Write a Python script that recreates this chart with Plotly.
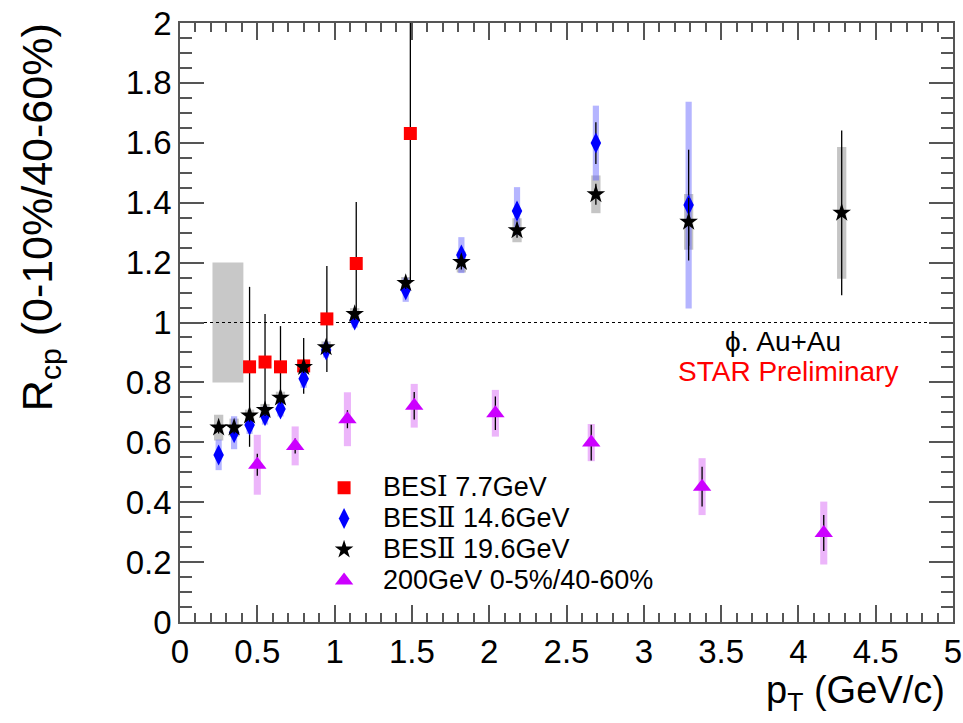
import plotly.graph_objects as go

# ---------------- data ----------------
# BESI 7.7 GeV (red squares)
pt_77 = [0.45, 0.55, 0.65, 0.80, 0.95, 1.14, 1.49]
rcp_77 = [0.852, 0.868, 0.852, 0.855, 1.012, 1.197, 1.631]
stat_77 = [0.267, 0.160, 0.136, 0.093, 0.177, 0.205, 0.50]

# BESII 14.6 GeV (blue diamonds)
pt_146 = [0.25, 0.35, 0.45, 0.55, 0.65, 0.80, 0.945, 1.13, 1.46, 1.82, 2.18, 2.69, 3.29]
rcp_146 = [0.558, 0.632, 0.658, 0.689, 0.711, 0.812, 0.908, 1.008, 1.109, 1.225, 1.372, 1.599, 1.392]
stat_146 = [0.02, 0.02, 0.02, 0.02, 0.02, 0.02, 0.02, 0.02, 0.025, 0.025, 0.03, 0.07, 0.185]
sys_146 = [0.051, 0.055, 0.03, 0.03, 0.025, 0.03, 0.025, 0.025, 0.04, 0.06, 0.08, 0.125, 0.345]

# BESII 19.6 GeV (black stars)
pt_196 = [0.25, 0.35, 0.45, 0.55, 0.65, 0.80, 0.945, 1.13, 1.46, 1.82, 2.18, 2.69, 3.29, 4.28]
rcp_196 = [0.649, 0.649, 0.689, 0.708, 0.749, 0.851, 0.917, 1.028, 1.132, 1.202, 1.308, 1.428, 1.336, 1.366]
stat_196 = [0.02, 0.02, 0.02, 0.02, 0.02, 0.02, 0.02, 0.02, 0.02, 0.025, 0.025, 0.035, 0.08, 0.275]
sys_196 = [0.043, 0.03, 0.02, 0.02, 0.02, 0.02, 0.02, 0.02, 0.02, 0.035, 0.04, 0.063, 0.093, 0.22]

# 200 GeV 0-5%/40-60% (violet triangles)
pt_200 = [0.50, 0.745, 1.083, 1.515, 2.04, 2.66, 3.377, 4.164]
rcp_200 = [0.525, 0.588, 0.677, 0.722, 0.697, 0.599, 0.452, 0.297]
stat_200 = [0.037, 0.025, 0.03, 0.046, 0.056, 0.06, 0.066, 0.06]
sys_200 = [0.10, 0.065, 0.09, 0.073, 0.078, 0.062, 0.095, 0.105]

# normalisation uncertainty band
norm_x = [0.21, 0.41]
norm_y = [0.80, 1.20]

x_ticks = [0, 0.5, 1, 1.5, 2, 2.5, 3, 3.5, 4, 4.5, 5]
x_tick_labels = ["0", "0.5", "1", "1.5", "2", "2.5", "3", "3.5", "4", "4.5", "5"]
y_ticks = [0, 0.2, 0.4, 0.6, 0.8, 1, 1.2, 1.4, 1.6, 1.8, 2]
y_tick_labels = ["0", "0.2", "0.4", "0.6", "0.8", "1", "1.2", "1.4", "1.6", "1.8", "2"]

FONT = "Liberation Sans, Arial, Helvetica, sans-serif"
SERIF = "DejaVu Serif, Liberation Serif, serif"

fig = go.Figure()

shapes = []
# normalisation box
shapes.append(dict(type="rect", xref="x", yref="y", x0=norm_x[0], x1=norm_x[1],
                   y0=norm_y[0], y1=norm_y[1], fillcolor="#c8c8c8",
                   line=dict(width=0), layer="below"))


def sys_boxes(xs, ys, es, half, color):
    for x, y, e in zip(xs, ys, es):
        shapes.append(dict(type="rect", xref="x", yref="y", x0=x - half, x1=x + half,
                           y0=y - e, y1=y + e, fillcolor=color,
                           line=dict(width=0), layer="below"))


sys_boxes(pt_200, rcp_200, sys_200, 0.023, "rgba(220,120,245,0.55)")
sys_boxes(pt_196, rcp_196, sys_196, 0.03, "rgba(150,150,150,0.55)")
sys_boxes(pt_146, rcp_146, sys_146, 0.02, "rgba(90,90,255,0.45)")

# dotted line at unity
shapes.append(dict(type="line", xref="x", yref="y", x0=0, x1=5, y0=1, y1=1,
                   line=dict(color="black", width=1, dash="dot"), layer="below"))

err_style = dict(type="data", color="black", thickness=1.3, width=0)


def lg(txt):
    return "<span style='font-size:27px'>" + txt + "</span>"


fig.add_trace(go.Scatter(
    x=pt_77, y=rcp_77, mode="markers",
    name=lg("BES<span style='font-family:" + SERIF + "'>Ⅰ</span> 7.7GeV"),
    marker=dict(symbol="square", size=13, color="#ff0000"),
    error_y=dict(array=stat_77, **err_style)))
fig.add_trace(go.Scatter(
    x=pt_146, y=rcp_146, mode="markers",
    name=lg("BES<span style='font-family:" + SERIF + "'>Ⅱ</span> 14.6GeV"),
    marker=dict(symbol="diamond-tall", size=15, color="#0000ff"),
    error_y=dict(array=stat_146, **err_style)))
fig.add_trace(go.Scatter(
    x=pt_196, y=rcp_196, mode="markers",
    name=lg("BES<span style='font-family:" + SERIF + "'>Ⅱ</span> 19.6GeV"),
    marker=dict(symbol="star", size=14, color="black"),
    error_y=dict(array=stat_196, **err_style)))
fig.add_trace(go.Scatter(
    x=pt_200, y=rcp_200, mode="markers",
    name=lg("200GeV 0-5%/40-60%"),
    marker=dict(symbol="triangle-up", size=16, color="#cc00ff"),
    error_y=dict(array=stat_200, **err_style)))

axis_common = dict(
    showgrid=False, zeroline=False, showline=True, linecolor="#555555", linewidth=1.5,
    mirror="allticks", ticks="inside", tickcolor="#555555", tickwidth=1.5,
    tickfont=dict(family=FONT, size=33, color="black"), automargin=False,
)

fig.update_layout(
    width=963, height=723,
    margin=dict(l=180, r=10, t=23, b=101),
    paper_bgcolor="white", plot_bgcolor="white",
    showlegend=True,
    legend=dict(x=0.1618, y=0.2585, xanchor="left", yanchor="top",
                bgcolor="rgba(0,0,0,0)", borderwidth=0,
                font=dict(family=FONT, size=21.5, color="black"),
                itemwidth=68, tracegroupgap=0),
    shapes=shapes,
    xaxis=dict(range=[0, 5], tickmode="array", tickvals=x_ticks, ticktext=x_tick_labels,
               ticklen=17, minor=dict(dtick=0.1, ticklen=9, ticks="inside",
                                      tickcolor="#555555", tickwidth=1.5),
               **axis_common),
    yaxis=dict(range=[0, 2], tickmode="array", tickvals=y_ticks, ticktext=y_tick_labels,
               ticklen=24, minor=dict(dtick=0.05, ticklen=12, ticks="inside",
                                      tickcolor="#555555", tickwidth=1.5),
               **axis_common),
    annotations=[
        dict(text="R<sub>cp</sub> (0-10%/40-60%)", xref="paper", yref="paper",
             x=-0.181, y=0.676, xanchor="center", yanchor="middle", textangle=-90,
             showarrow=False, font=dict(family=FONT, size=43, color="black")),
        dict(text="p<sub>T</sub> (GeV/c)", xref="paper", yref="paper",
             x=0.9926, y=-0.118, xanchor="right", yanchor="middle",
             showarrow=False, font=dict(family=FONT, size=38, color="black")),
        dict(text="ϕ. Au+Au", xref="paper", yref="paper",
             x=0.703, y=0.4675, xanchor="left", yanchor="middle",
             showarrow=False, font=dict(family=FONT, size=28, color="black")),
        dict(text="STAR Preliminary", xref="paper", yref="paper",
             x=0.642, y=0.419, xanchor="left", yanchor="middle",
             showarrow=False, font=dict(family=FONT, size=28, color="#ff0000")),
    ],
)

fig.write_html("out.html")
